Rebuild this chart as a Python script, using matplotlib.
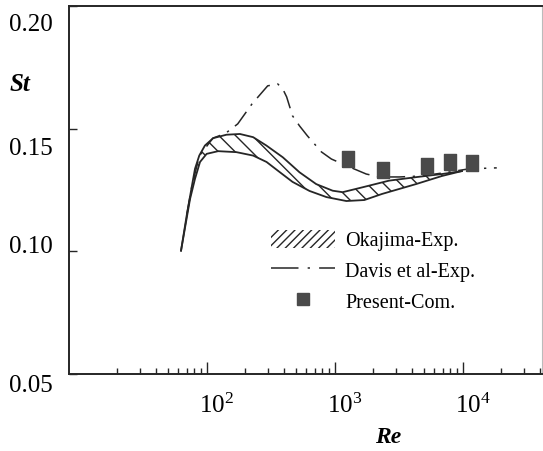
import numpy as np
import matplotlib
matplotlib.use('Agg')
from matplotlib import pyplot as plt
from matplotlib.patches import Patch
from matplotlib.lines import Line2D
from matplotlib.ticker import FixedLocator, NullFormatter
from matplotlib.transforms import ScaledTranslation

plt.rcParams['font.family'] = ['Liberation Serif', 'DejaVu Serif']
plt.rcParams['mathtext.fontset'] = 'custom'
plt.rcParams['mathtext.rm'] = 'Liberation Serif'
plt.rcParams['mathtext.it'] = 'Liberation Serif:italic'
plt.rcParams['mathtext.bf'] = 'Liberation Serif:bold'
plt.rcParams['hatch.linewidth'] = 1.0

# Okajima experiment band (upper / lower edge)
re_up = [63.1, 69.8, 76.4, 81.1, 87.6, 97.0, 112.5, 143, 182, 231, 293, 394,
         532, 718, 966, 1156, 1656, 2667, 4300, 6930, 9890]
st_up = [0.1003, 0.1145, 0.1261, 0.1336, 0.1390, 0.1431, 0.1461, 0.1475,
         0.1478, 0.1465, 0.1431, 0.1383, 0.1322, 0.1274, 0.1247, 0.1241,
         0.1261, 0.1288, 0.1302, 0.1315, 0.1327]
re_lo = [63.1, 74.2, 81.1, 88.8, 100, 123, 171, 231, 294, 372, 469, 637, 864,
         1236, 1707, 2355, 4330, 6910, 9890]
st_lo = [0.1003, 0.1213, 0.1295, 0.1364, 0.1397, 0.1408, 0.1404, 0.1390,
         0.1364, 0.1323, 0.1283, 0.1246, 0.1221, 0.1205, 0.1209, 0.1234,
         0.1274, 0.1307, 0.1327]

# Davis et al. experiment
re_davis = [70, 77, 88, 112, 140, 175, 226, 300, 359, 393, 422, 469, 532,
            614, 789, 944, 1303, 1766, 2232, 3194, 4820, 7830, 11200, 18500]
st_davis = [0.115, 0.127, 0.139, 0.1461, 0.1480, 0.1519, 0.160, 0.1674,
            0.1682, 0.1662, 0.1629, 0.1552, 0.1511, 0.1470, 0.1405, 0.1376,
            0.1344, 0.1315, 0.1303, 0.1303, 0.1307, 0.1323, 0.1336, 0.1340]

# present computation
re_com = [1282, 2400, 5270, 7960, 11800]
st_com = [0.1376, 0.1332, 0.1348, 0.1364, 0.1360]

xmajor = [1e2, 1e3, 1e4]
xmajor_labels = ['$10^2$', '$10^3$', '$10^4$']
yticks = [0.05, 0.10, 0.15, 0.20]
ytick_labels = ['0.05', '0.10', '0.15', '0.20']

ink = '#262626'
box = [(-0.72, -1), (0.72, -1), (0.72, 1), (-0.72, 1), (-0.72, -1)]

fig = plt.figure(figsize=(5.43, 4.52), dpi=100)
ax = fig.add_axes([0.127, 0.170, 0.871, 0.815])

ax.fill(re_up + re_lo[::-1], st_up + st_lo[::-1], facecolor='none',
        edgecolor=ink, hatch='\\\\', linewidth=0)
ax.plot(re_up, st_up, color=ink, lw=1.3)
ax.plot(re_lo, st_lo, color=ink, lw=1.3)
ax.plot(re_davis, st_davis, color=ink, lw=1.1,
        linestyle=(0, (12, 5, 1.5, 5)))
ax.plot(re_com, st_com, linestyle='none', marker=box, markersize=11.5,
        color='#4a4a4a')

ax.set_xscale('log')
ax.set_xlim(8.4, 41700)
ax.set_ylim(0.05, 0.20)

ax.xaxis.set_major_locator(FixedLocator(xmajor))
ax.set_xticklabels(xmajor_labels)
minors = [k * 10.0 ** d for d in range(1, 5) for k in range(2, 10)]
ax.xaxis.set_minor_locator(FixedLocator(minors))
ax.xaxis.set_minor_formatter(NullFormatter())
ax.set_yticks(yticks)
ax.set_yticklabels(ytick_labels)

ax.tick_params(axis='x', which='major', direction='in', length=9, width=1,
               labelsize=18, pad=13, color=ink)
ax.tick_params(axis='x', which='minor', direction='in', length=4, width=1,
               color=ink)
ax.tick_params(axis='y', direction='in', length=6, width=1, labelsize=18,
               pad=12, color=ink)
for lab in ax.get_xticklabels():
    lab.set_transform(lab.get_transform() +
                      ScaledTranslation(0.10, 0, fig.dpi_scale_trans))
# the scanned labels sit a little off their ticks
ylab_shift = [-0.08, 0.08, -0.17, -0.16]
for lab, dy in zip(ax.get_yticklabels(), ylab_shift):
    lab.set_transform(lab.get_transform() +
                      ScaledTranslation(0, dy, fig.dpi_scale_trans))

for side in ['left', 'bottom', 'top']:
    ax.spines[side].set_color(ink)
    ax.spines[side].set_linewidth(1.4)
ax.spines['right'].set_color('#bbbbbb')
ax.spines['right'].set_linewidth(0.8)

ax.set_ylabel('St', rotation=0, fontsize=18, fontweight='bold',
              fontstyle='italic', ha='center', va='center')
ax.yaxis.set_label_coords(-0.104, 0.788)
ax.set_xlabel('Re', fontsize=17, fontweight='bold', fontstyle='italic',
              ha='center', va='center')
ax.xaxis.set_label_coords(0.674, -0.170)

handles = [Patch(facecolor='none', edgecolor=ink, hatch='////', lw=0),
           Line2D([], [], color=ink, lw=1.1, linestyle=(0, (18, 6, 1.5, 6))),
           Line2D([], [], linestyle='none', marker='s', markersize=9,
                  color='#4a4a4a')]
labels = ['Okajima-Exp.', 'Davis et al-Exp.', 'Present-Com.']
ax.legend(handles, labels, loc='upper left', bbox_to_anchor=(0.405, 0.42),
          frameon=False, fontsize=14.5, handlelength=3.2, handleheight=1.0,
          handletextpad=0.5, labelspacing=0.5, borderpad=0)

plt.savefig('out.png', dpi=100)
